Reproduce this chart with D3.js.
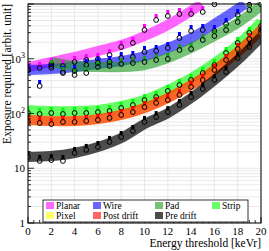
<!DOCTYPE html>
<html><head><meta charset="utf-8">
<script src="https://cdn.jsdelivr.net/npm/d3@7"></script>
<style>body{margin:0;background:#fff}svg{display:block}text{font-family:"Liberation Serif","DejaVu Serif",serif}</style>
</head><body><svg id="c" width="269" height="251"></svg>
<script>
// ---- data ----
const seriesNames = ["Planar","Wire","Pad","Strip","Pixel","Post drift","Pre drift"];
const seriesColors = ["#ff00ff","#0000ff","#1a991a","#00ff00","#ffff00","#ff0000","#000000"];
// band (fit) curves: [threshold, exposure]
const bandPlanar = [[0,707],[2,873],[4,1077],[6,1386],[8,1783],[10,2605],[12,4131],[14,7452],[14.9,10000]];
const bandWire   = [[0,623],[2,650],[4,707],[6,802],[8,910],[10,1122],[12,1571],[14,2393],[16,4312],[18,8107],[18.6,10000]];
const bandPad    = [[2,873],[4,737],[6,707],[8,707],[10,769],[12,1032],[14,1571],[16,2605],[18,4498],[20,9190]];
const bandStrip  = [[0,116],[2,111],[4,111],[6,116],[8,137],[10,176],[12,269],[14,445],[16,836],[18,1783],[20,4690]];
const bandPixel  = [[0,76],[2,73],[4,73],[6,79],[8,94],[10,126],[12,192],[14,331],[16,623],[18,1328],[20,3350]];
const bandPost   = [[0,76],[2,73],[4,73],[6,79],[8,94],[10,126],[12,192],[14,331],[16,623],[18,1328],[20,3350]];
const bandPre    = [[0,16.0],[2,16.7],[4,19.0],[6,24.4],[8,35.7],[10,64.3],[12,102],[14,192],[16,409],[18,949],[20,2497]];
// measured points: exposure at thresholds 0,1,2,...
const ptsPlanar = [623,678,802,737,873,949,989,1170,1640,1940,3350,5100,6040,6570,6570,7140,9900];
const ptsWire   = [623,318,678,573,597,769,836,873,1032,1077,1328,1386,1571,2393,3213,3350,3213,4312,6297,9590];
const ptsPad    = [null,null,737,549,505,549,707,737,802,836,873,949,989,1445,1507,2199,2605,3350,4690,7770,9900];
const ptsStrip  = [102,98,102,98,102,102,106,111,126,143,176,200,258,331,409,549,769,1274,1940,2953,3966];
const ptsPixel  = [];
const ptsPost   = [70,67,64,70,70,73,76,83,94,106,131,156,176,218,305,409,623,949,1507,2294,3350];
const ptsPre    = [16.0,13.6,14.1,13.6,19.0,21.6,24.4,30.2,37.2,47.9,70,86,106,143,200,280,409,573,1032,1640,2953];
const xTicks = [0,2,4,6,8,10,12,14,16,18,20];
const yTickLabels = [["1",""],["10",""],["10","2"],["10","3"]];

const bands = [bandPlanar,bandWire,bandPad,bandStrip,bandPixel,bandPost,bandPre];
const points = [ptsPlanar,ptsWire,ptsPad,ptsStrip,ptsPixel,ptsPost,ptsPre];

// ---- chart ----
const svg = d3.select("#c");
const L=28,R=261,T=4,B=223;
const x = d3.scaleLinear().domain([0,20]).range([L,R]);
const y = d3.scaleLog().domain([1,1e4]).range([B,T]);

svg.append("defs").append("clipPath").attr("id","clip")
  .append("rect").attr("x",L).attr("y",T-2).attr("width",R-L).attr("height",B-T+2);

// grid
const yMinor = [];
for (let e=0;e<4;e++) for (let m=1;m<10;m++) yMinor.push(m*Math.pow(10,e));
yMinor.push(1e4);
const g = svg.append("g");
g.selectAll(".hg").data(yMinor).join("line")
  .attr("x1",L).attr("x2",R).attr("y1",d=>y(d)).attr("y2",d=>y(d))
  .attr("stroke","#e2e2e2").attr("stroke-width",0.8);
g.selectAll(".vg").data(xTicks).join("line")
  .attr("y1",T).attr("y2",B).attr("x1",d=>x(d)).attr("x2",d=>x(d))
  .attr("stroke","#e2e2e2").attr("stroke-width",0.8);

// bands
const line = d3.line().x(d=>x(d[0])).y(d=>y(d[1])).curve(d3.curveCatmullRom);
const plot = svg.append("g").attr("clip-path","url(#clip)");
bands.forEach((b,i)=>{
  plot.append("path").attr("d",line(b)).attr("fill","none")
    .attr("stroke",seriesColors[i]).attr("stroke-opacity",i===6?0.7:0.6)
    .attr("stroke-width",10).attr("stroke-linecap","butt");
});
// points
points.forEach((p,i)=>{
  const data = p.map((v,k)=>[k,v]).filter(d=>d[1]!=null);
  plot.selectAll(null).data(data).join("rect")
    .attr("x",d=>x(d[0])-1.5).attr("y",d=>y(d[1])-6).attr("width",3).attr("height",4)
    .attr("fill",seriesColors[i]);
  plot.selectAll(null).data(data).join("circle")
    .attr("cx",d=>x(d[0])).attr("cy",d=>y(d[1])).attr("r",2.4)
    .attr("fill","none").attr("stroke","#000").attr("stroke-width",1);
});

// frame
svg.append("rect").attr("x",L).attr("y",T).attr("width",R-L).attr("height",B-T)
  .attr("fill","none").attr("stroke","#000").attr("stroke-width",1);

// ticks
const xMinor = d3.range(0,20.01,0.5);
svg.selectAll(".xt").data(xMinor).join("line")
  .attr("x1",d=>x(d)).attr("x2",d=>x(d)).attr("y1",B)
  .attr("y2",d=>B-(d%2===0?6:3)).attr("stroke","#000").attr("stroke-width",0.8);
svg.selectAll(".yt").data(yMinor).join("line")
  .attr("y1",d=>y(d)).attr("y2",d=>y(d)).attr("x1",L)
  .attr("x2",d=>{const l=Math.log10(d);return L+(Math.abs(l-Math.round(l))<1e-9?6:3);})
  .attr("stroke","#000").attr("stroke-width",0.8);

// tick labels
svg.selectAll(".xl").data(xTicks).join("text")
  .attr("x",d=>x(d)).attr("y",B+12).attr("text-anchor","middle")
  .attr("font-size",11).text(d=>d);
yTickLabels.forEach((t,i)=>{
  const tx = svg.append("text").attr("x",L-3).attr("y",y(Math.pow(10,i))+4)
    .attr("text-anchor","end").attr("font-size",11);
  tx.append("tspan").text(t[0]);
  if (t[1]) tx.append("tspan").attr("dy",-5).attr("font-size",8).text(t[1]);
});

// axis titles
svg.append("text").attr("x",R).attr("y",247).attr("text-anchor","end")
  .attr("font-size",11.5).text("Energy threshold [keVr]");
svg.append("text").attr("transform",`translate(11,${T}) rotate(-90)`)
  .attr("text-anchor","end").attr("font-size",11.5).text("Exposure required [arbit. unit]");

// legend
const lg = svg.append("g");
lg.append("rect").attr("x",43).attr("y",200).attr("width",205).attr("height",22)
  .attr("fill","#fff").attr("stroke","#000").attr("stroke-width",0.8);
const colX = [46,93,155,212];
seriesNames.forEach((n,i)=>{
  const cx = colX[i%4], cy = i<4?205.5:215.5;
  lg.append("rect").attr("x",cx).attr("y",cy-3.5).attr("width",8).attr("height",7)
    .attr("fill",seriesColors[i]).attr("fill-opacity",i===6?0.7:0.6);
  lg.append("text").attr("x",cx+10).attr("y",cy+3.3).attr("font-size",9.5).text(n);
});
</script></body></html>
